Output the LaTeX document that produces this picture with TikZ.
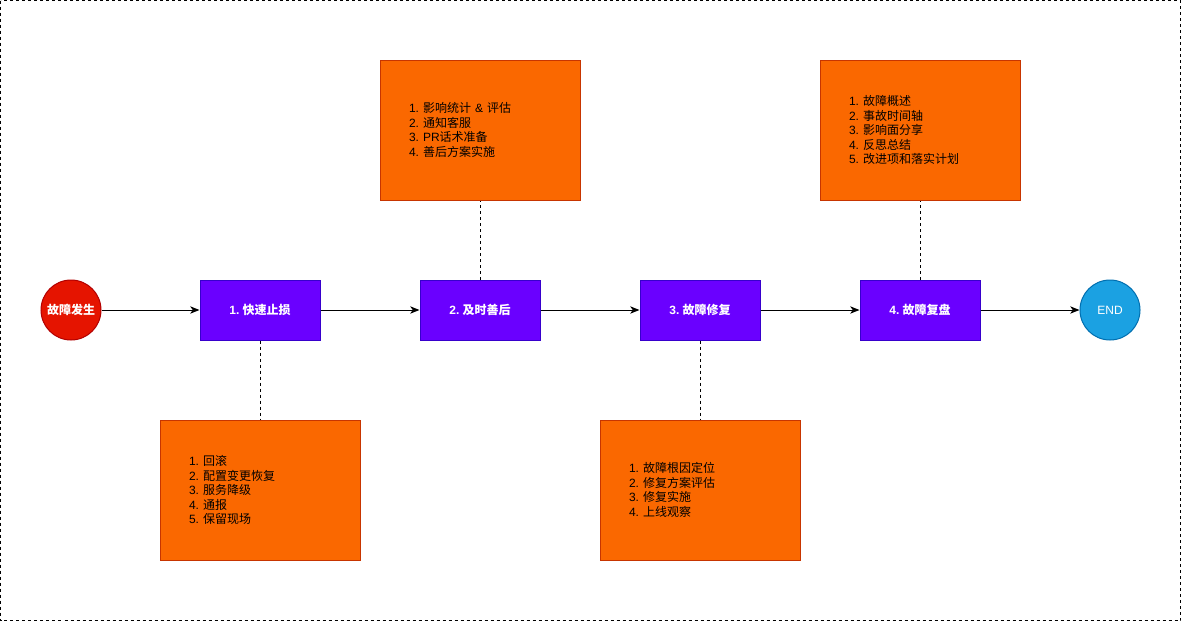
\documentclass[tikz,border=0pt]{standalone}
\usepackage{fontspec}
\setmainfont{Liberation Sans}
\newfontfamily\cjk{Noto Sans CJK SC}
\usetikzlibrary{arrows.meta}
\frenchspacing
\definecolor{redfill}{HTML}{E51400}
\definecolor{redline}{HTML}{B20000}
\definecolor{purfill}{HTML}{6A00FF}
\definecolor{purline}{HTML}{3700CC}
\definecolor{bluefill}{HTML}{1BA1E2}
\definecolor{blueline}{HTML}{006EAF}
\definecolor{orfill}{HTML}{FA6800}
\definecolor{orline}{HTML}{C73500}
\tikzset{
  stepbox/.style={rectangle, draw=purline, fill=purfill, line width=0.75pt,
    minimum width=90pt, minimum height=45pt, inner sep=0pt, text=white,
    font=\fontsize{9}{11}\selectfont\bfseries},
  startnode/.style={circle, draw=redline, fill=redfill, line width=0.75pt,
    minimum size=45pt, inner sep=0pt, text=white, font=\fontsize{9}{11}\selectfont\bfseries},
  endnode/.style={circle, draw=blueline, fill=bluefill, line width=0.75pt,
    minimum size=45pt, inner sep=0pt, text=white, font=\fontsize{9}{11}\selectfont},
  notebox/.style={rectangle, draw=orline, fill=orfill, line width=0.75pt,
    text width=106.5pt, inner xsep=21.75pt, inner ysep=0pt, minimum height=105pt,
    align=left, text=black, font=\fontsize{9}{10.9}\selectfont},
  flow/.style={line width=0.75pt, -{Stealth[length=7pt,width=5.5pt,inset=2pt]}},
  link/.style={line width=0.75pt, dash pattern=on 2.25pt off 2.25pt},
}
\begin{document}
\begin{tikzpicture}[x=0.75pt,y=-0.75pt]
\useasboundingbox (0,0) rectangle (1181,621);
\draw[line width=0.75pt, dash pattern=on 2.25pt off 2.25pt] (0.5,0.5) rectangle (1180.5,620.5);

\node[startnode] (start) at (71,310) {\cjk 故障发生};
\node[stepbox] (s1) at (260,310) {1. {\cjk 快速止损}};
\node[stepbox] (s2) at (480,310) {2. {\cjk 及时善后}};
\node[stepbox] (s3) at (700,310) {3. {\cjk 故障修复}};
\node[stepbox] (s4) at (920,310) {4. {\cjk 故障复盘}};
\node[endnode] (end) at (1110,310) {END};

\node[notebox] (n2) at (480,130) {1. {\cjk 影响统计} \& {\cjk 评估}\\2. {\cjk 通知客服}\\3. PR{\cjk 话术准备}\\4. {\cjk 善后方案实施}};
\node[notebox] (n4) at (920,130) {1. {\cjk 故障概述}\\2. {\cjk 事故时间轴}\\3. {\cjk 影响面分享}\\4. {\cjk 反思总结}\\5. {\cjk 改进项和落实计划}};
\node[notebox] (n1) at (260,490) {1. {\cjk 回滚}\\2. {\cjk 配置变更恢复}\\3. {\cjk 服务降级}\\4. {\cjk 通报}\\5. {\cjk 保留现场}};
\node[notebox] (n3) at (700,490) {1. {\cjk 故障根因定位}\\2. {\cjk 修复方案评估}\\3. {\cjk 修复实施}\\4. {\cjk 上线观察}};

\draw[flow] (start) -- (s1);
\draw[flow] (s1) -- (s2);
\draw[flow] (s2) -- (s3);
\draw[flow] (s3) -- (s4);
\draw[flow] (s4) -- (end);

\draw[link] (s1) -- (n1);
\draw[link] (s2) -- (n2);
\draw[link] (s3) -- (n3);
\draw[link] (s4) -- (n4);
\end{tikzpicture}
\end{document}
